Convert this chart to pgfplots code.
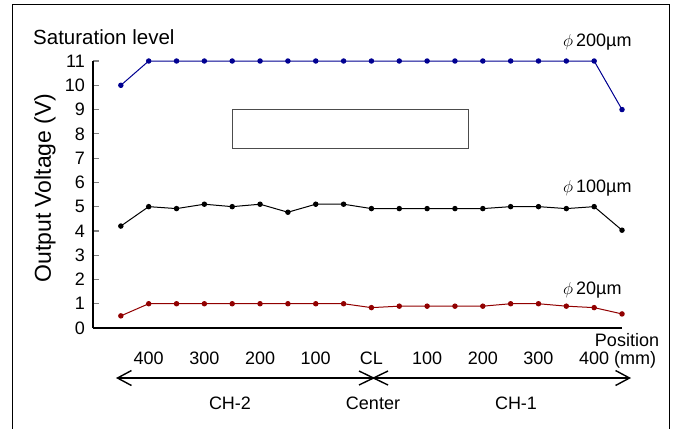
\documentclass[border=0pt]{standalone}
\usepackage{fontspec}
\setmainfont{Liberation Sans}
\usepackage{pgfplots}
\pgfplotsset{compat=1.18}
\usetikzlibrary{arrows.meta}
\definecolor{cblue}{RGB}{0,0,145}
\definecolor{cred}{RGB}{145,0,0}
\newcommand\fs{\fontsize{18bp}{21bp}\selectfont}
\begin{document}
\fs
\begin{tikzpicture}[x=1bp,y=1bp]
\useasboundingbox (0,0) rectangle (676,-428);
\draw[line width=1bp] (12,-4.5) rectangle (669,-440);
\begin{axis}[
  at={(93bp,-328bp)}, anchor=south west, scale only axis,
  width=529bp, height=267bp,
  xmin=-500, xmax=450, ymin=0, ymax=11,
  axis x line=bottom, axis y line=left,
  axis line style={-, line width=1.4bp},
  ytick={0,1,...,11},
  xtick={-400,-300,-200,-100,0,100,200,300,400},
  xticklabels={400,300,200,100,CL,100,200,300,{400\rlap{ (mm)}}},
  x tick style={draw=none},
  y tick style={line width=1.2bp},
  tick align=inside, major tick length=6bp,
  xticklabel style={anchor=base, yshift=-36bp},
  yticklabel style={xshift=-2bp},
  /pgf/number format/assume math mode=true,
  ticklabel style={font=\fs},
  clip=false,
]
\addplot[cblue, line width=1bp, mark=*, mark size=2.2bp] coordinates {
(-450,10)(-400,11)(-350,11)(-300,11)(-250,11)(-200,11)(-150,11)(-100,11)(-50,11)(0,11)(50,11)(100,11)(150,11)(200,11)(250,11)(300,11)(350,11)(400,11)(450,9)};
\addplot[black, line width=1bp, mark=*, mark size=2.2bp] coordinates {
(-450,4.2)(-400,5.0)(-350,4.92)(-300,5.1)(-250,5.0)(-200,5.1)(-150,4.77)(-100,5.1)(-50,5.1)(0,4.92)(50,4.92)(100,4.92)(150,4.92)(200,4.92)(250,5.0)(300,5.0)(350,4.92)(400,5.0)(450,4.03)};
\addplot[cred, line width=1bp, mark=*, mark size=2.2bp] coordinates {
(-450,0.5)(-400,1.0)(-350,1.0)(-300,1.0)(-250,1.0)(-200,1.0)(-150,1.0)(-100,1.0)(-50,1.0)(0,0.84)(50,0.9)(100,0.9)(150,0.9)(200,0.9)(250,1.0)(300,1.0)(350,0.9)(400,0.84)(450,0.58)};
\draw[black!70, line width=1bp] (axis cs:-250,7.4) rectangle (axis cs:175,9.0);
\end{axis}
\node[anchor=west, inner sep=0, font=\fontsize{20.5bp}{24bp}\selectfont] at (33,-37) {Saturation level};
\node[rotate=90, inner sep=0, font=\fontsize{23bp}{26bp}\selectfont] at (45,-188) {Output Voltage (V)};
\node[anchor=west, inner sep=0] at (563,-42) {$\phi$\,200µm};
\node[anchor=west, inner sep=0] at (563,-188) {$\phi$\,100µm};
\node[anchor=west, inner sep=0] at (563,-290) {$\phi$\,20µm};
\node[inner sep=0] at (627,-340) {Position};
\draw[line width=1.4bp, {Straight Barb[length=14bp,width=15bp]}-{Straight Barb[length=14bp,width=15bp]}] (116,-378) -- (631,-378);
\draw[line width=1.4bp] (359,-371) -- (388,-385) (359,-385) -- (388,-371);
\node[inner sep=0] at (230,-403) {CH-2};
\node[inner sep=0] at (373,-403) {Center};
\node[inner sep=0] at (516,-403) {CH-1};
\end{tikzpicture}
\end{document}
